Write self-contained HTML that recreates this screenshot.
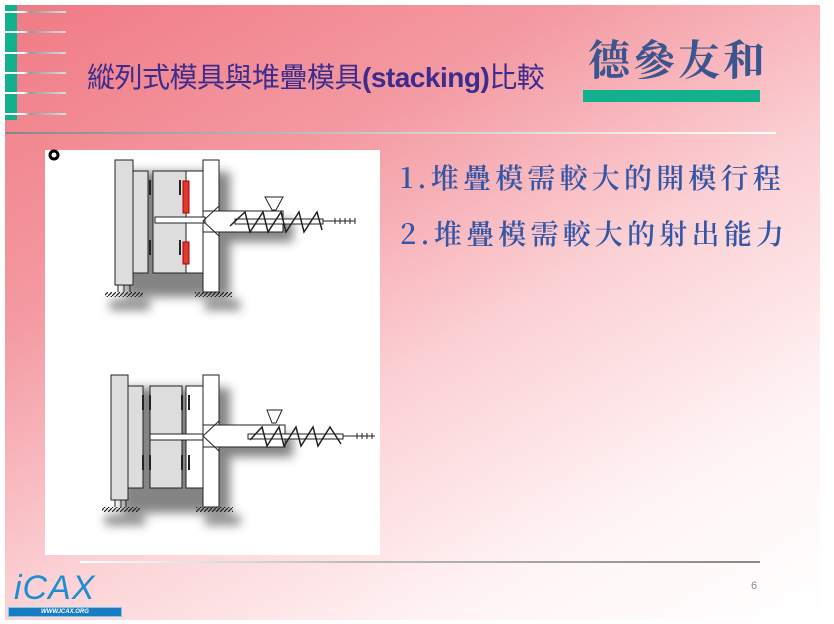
<!DOCTYPE html>
<html><head><meta charset="utf-8"><style>
html,body{margin:0;padding:0;background:#fff;}
body{width:834px;height:624px;position:relative;overflow:hidden;}
.slide{position:absolute;left:5px;top:5px;width:815px;height:615px;
background:linear-gradient(150deg,#f07a84 0%,#f49aa2 30%,#fbd0d4 55%,#fff4f5 80%,#fff 100%);}
.abs{position:absolute;}
</style></head><body>
<div class="slide"></div>
<div class="abs" style="left:5px;top:5px;width:12px;height:115px;background:#12b08c"></div>
<div class="abs" style="left:5px;top:11px;width:61px;height:2px;background:linear-gradient(90deg,#fff 0,#fff 30%,#999 40%,#ddd 100%)"></div>
<div class="abs" style="left:5px;top:31px;width:61px;height:2px;background:linear-gradient(90deg,#fff 0,#fff 30%,#999 40%,#ddd 100%)"></div>
<div class="abs" style="left:5px;top:52px;width:61px;height:2px;background:linear-gradient(90deg,#fff 0,#fff 30%,#999 40%,#ddd 100%)"></div>
<div class="abs" style="left:5px;top:72px;width:61px;height:2px;background:linear-gradient(90deg,#fff 0,#fff 30%,#999 40%,#ddd 100%)"></div>
<div class="abs" style="left:5px;top:92px;width:61px;height:2px;background:linear-gradient(90deg,#fff 0,#fff 30%,#999 40%,#ddd 100%)"></div>
<div class="abs" style="left:5px;top:113px;width:61px;height:2px;background:linear-gradient(90deg,#fff 0,#fff 30%,#999 40%,#ddd 100%)"></div>
<div class="abs" style="left:87px;top:56px;font:28px 'Liberation Sans','Noto Sans CJK TC',sans-serif;color:#3b2c8e;white-space:nowrap;letter-spacing:-0.5px"><span>縱列式模具與堆疊模具</span><b>(stacking)</b><span>比較</span></div>
<div class="abs" style="left:588px;top:28px;font:bold 42px 'Noto Serif CJK SC',serif;color:#3a5590;letter-spacing:3px;white-space:nowrap">德參友和</div>
<div class="abs" style="left:583px;top:90px;width:177px;height:12px;background:#12b08c"></div>
<div class="abs" style="left:5px;top:132px;width:771px;height:2px;background:linear-gradient(90deg,#888,#ccc 50%,#fff)"></div>
<div class="abs" style="left:400px;top:157px;font:600 28px 'Noto Serif CJK SC',serif;color:#3456a6;letter-spacing:4.2px;white-space:nowrap">1.堆疊模需較大的開模行程</div>
<div class="abs" style="left:400px;top:213px;font:600 28px 'Noto Serif CJK SC',serif;color:#3456a6;letter-spacing:4.2px;white-space:nowrap">2.堆疊模需較大的射出能力</div>
<div class="abs" style="left:45px;top:150px;width:335px;height:405px;background:#fff"></div>
<svg class="abs" style="left:0;top:0" width="834" height="624">
<defs>
<filter id="sh" x="-50%" y="-50%" width="200%" height="200%"><feGaussianBlur stdDeviation="5"/></filter>
<pattern id="hat" width="4" height="4" patternUnits="userSpaceOnUse"><path d="M0,4 L4,0" stroke="#222" stroke-width="1.2"/></pattern>
</defs>
<circle cx="54" cy="155" r="4" fill="none" stroke="#000" stroke-width="3"/>
<g>
<g filter="url(#sh)" fill="#666" opacity="0.8">
<rect x="125" y="172" width="105" height="125"/><rect x="213" y="220" width="80" height="22"/><rect x="110" y="300" width="40" height="10"/><rect x="205" y="300" width="35" height="10"/>
</g>
<g stroke="#222" stroke-width="1">
<rect x="115" y="160" width="18" height="125" fill="#ddd"/>
<rect x="133" y="171" width="15" height="102" fill="#ddd"/>
<rect x="153" y="171" width="33" height="102" fill="#ddd"/>
<rect x="186" y="171" width="17" height="102" fill="#fff"/>
<rect x="203" y="160" width="16" height="132" fill="#fff"/>
<rect x="203" y="211" width="80" height="21" fill="#fff"/>
<rect x="155" y="217" width="50" height="6" fill="#fff"/>
<rect x="183" y="181" width="6" height="32" fill="#e03a30" stroke="#a00"/>
<rect x="183" y="242" width="6" height="22" fill="#e03a30" stroke="#a00"/>
<path d="M219,206 L203,221 L219,236" fill="none"/>
<path d="M265,197 L283,197 L276,210 L272,210 Z" fill="#fff"/>
<rect x="235" y="219" width="88" height="5" fill="#fff"/>
<path d="M230,226 L245,212 L250,232 L263,212 L268,232 L281,212 L286,232 L299,212 L304,232 L317,212 L322,230" fill="none" stroke-width="1.5"/>
<path d="M323,221 L355,221 M335,218v6 M340,218v6 M345,218v6 M350,218v6 M355,218v6" fill="none"/>
<path d="M150,180v15 M150,240v15 M180,180v15 M180,240v15" stroke-width="2"/>
<rect x="105" y="292" width="38" height="5" fill="url(#hat)" stroke="none"/>
<rect x="195" y="292" width="37" height="5" fill="url(#hat)" stroke="none"/>
<path d="M118,285v7 M124,285v7 M130,285v7"/>
</g>
</g>
<g>
<g filter="url(#sh)" fill="#666" opacity="0.8">
<rect x="122" y="388" width="108" height="125"/><rect x="213" y="435" width="80" height="22"/><rect x="105" y="515" width="40" height="10"/><rect x="205" y="515" width="35" height="10"/>
</g>
<g stroke="#222" stroke-width="1">
<rect x="111" y="375" width="17" height="125" fill="#ddd"/>
<rect x="128" y="386" width="15" height="102" fill="#ddd"/>
<rect x="150" y="386" width="32" height="102" fill="#ddd"/>
<rect x="186" y="386" width="17" height="102" fill="#fff"/>
<rect x="203" y="375" width="16" height="132" fill="#fff"/>
<rect x="203" y="425" width="82" height="22" fill="#fff"/>
<rect x="150" y="434" width="53" height="6" fill="#fff"/>
<path d="M219,421 L203,436 L219,451" fill="none"/>
<path d="M267,410 L282,410 L276,423 L272,423 Z" fill="#fff"/>
<rect x="248" y="434" width="95" height="5" fill="#fff"/>
<path d="M250,440 L262,427 L267,446 L279,427 L284,446 L296,427 L301,446 L313,427 L318,446 L330,427 L341,444" fill="none" stroke-width="1.5"/>
<path d="M343,436 L375,436 M357,433v6 M362,433v6 M367,433v6 M372,433v6" fill="none"/>
<path d="M143,395v15 M143,455v15 M150,395v15 M150,455v15 M182,395v15 M182,455v15 M189,395v15 M189,455v15" stroke-width="2"/>
<rect x="102" y="507" width="38" height="5" fill="url(#hat)" stroke="none"/>
<rect x="196" y="507" width="37" height="5" fill="url(#hat)" stroke="none"/>
<path d="M115,500v7 M121,500v7 M126,500v7"/>
</g>
</g>
</svg>
<div class="abs" style="left:80px;top:561px;width:680px;height:2px;background:linear-gradient(90deg,#fff,#bbb 40%,#888)"></div>
<div class="abs" style="left:751px;top:580px;font:11px 'Liberation Sans',sans-serif;color:#888">6</div>
<div class="abs" style="left:14px;top:570px;font:italic 34px 'Liberation Sans',sans-serif;color:#1e8ed0;letter-spacing:1px;line-height:36px">iCAX</div>
<div class="abs" style="left:8px;top:607px;width:112px;height:8px;background:#1a7cc0;border:1px solid #7cc8f0;font:bold italic 6px 'Liberation Sans',sans-serif;color:#fff;text-align:center;line-height:8px">WWW.ICAX.ORG</div>
</body></html>
